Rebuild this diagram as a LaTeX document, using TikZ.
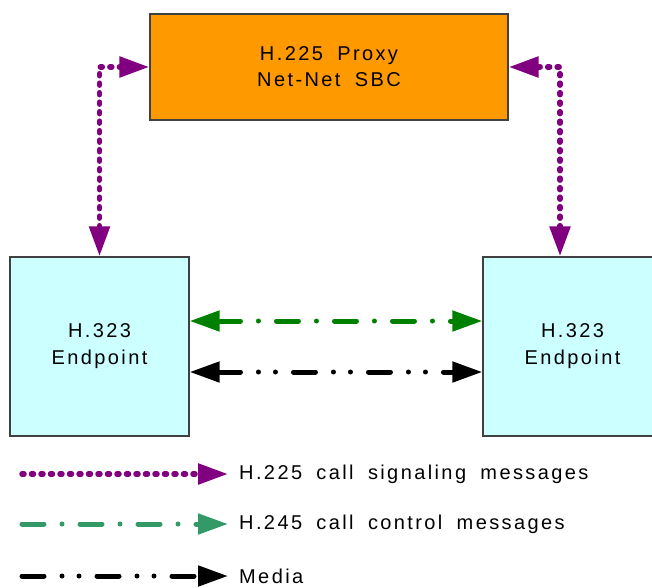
\documentclass[tikz,border=0pt]{standalone}
\usepackage{fontspec}
\setmainfont{Liberation Sans}[LetterSpace=12,WordSpace=1.8]
\usetikzlibrary{positioning,arrows.meta}
\definecolor{sbcorange}{HTML}{FF9900}
\definecolor{epcyan}{HTML}{CCFFFF}
\definecolor{boxgray}{HTML}{404040}
\definecolor{sigpurple}{HTML}{800080}
\definecolor{ctlgreen}{HTML}{008000}
\definecolor{keygreen}{HTML}{339966}

\tikzset{
  tri/.tip={Triangle[length=30pt,width=20pt]},
  sbcbox/.style={draw=boxgray,line width=1.4pt,fill=sbcorange,minimum width=358pt,minimum height=106pt,
    align=center,font=\fontsize{20}{26}\selectfont},
  epbox/.style={draw=boxgray,line width=1.4pt,fill=epcyan,minimum width=179pt,minimum height=179pt,
    align=center,font=\fontsize{20}{27}\selectfont},
  sigline/.style={sigpurple,line width=5.5pt,line cap=round,dash pattern=on 2pt off 7.5pt},
  ctlline/.style={ctlgreen,line width=5pt,line cap=round,dash pattern=on 22pt off 18pt on 0pt off 18pt},
  medialine/.style={black,line width=5pt,line cap=round,dash pattern=on 22pt off 18pt on 0pt off 17pt on 0pt off 18pt},
  keytext/.style={anchor=west,inner xsep=11pt,font=\fontsize{20}{22}\selectfont}
}

\begin{document}
\begin{tikzpicture}[x=1pt,y=-1pt]
  \useasboundingbox (0,0) rectangle (652,587);
  % boxes
  \node[sbcbox] (proxy) at (329,67) {H.225 Proxy\\Net-Net SBC};
  \node[epbox] (lep) at (99.5,346.5) {H.323\\Endpoint};
  \node[epbox] (rep) at (572.5,346.5) {H.323\\Endpoint};
  \coordinate (rtop) at ([xshift=-12.5pt]rep.north);

  % signaling to the proxy
  \draw[sigline,tri-tri] (lep.north) |- (proxy.west);
  \draw[sigline,tri-tri] (rtop) |- (proxy.east);

  % control and media between the endpoints
  \draw[ctlline,tri-tri] ([yshift=25.5pt]lep.east) -- ([yshift=25.5pt]rep.west);
  \draw[medialine,tri-tri] ([yshift=-25.5pt]lep.east) -- ([yshift=-25.5pt]rep.west);

  % key
  \coordinate (k1a) at (22,474);
  \coordinate (k2a) at (22,524);
  \coordinate (k3a) at (22,576);
  \node[keytext] (k1) at (228,474) {H.225 call signaling messages};
  \node[keytext] (k2) at (228,524) {H.245 call control messages};
  \node[keytext] (k3) at (228,576) {Media};
  \draw[sigline,-tri] (k1a) -- (k1.west);
  \draw[ctlline,keygreen,-tri] (k2a) -- (k2.west);
  \draw[medialine,-tri] (k3a) -- (k3.west);
\end{tikzpicture}
\end{document}
